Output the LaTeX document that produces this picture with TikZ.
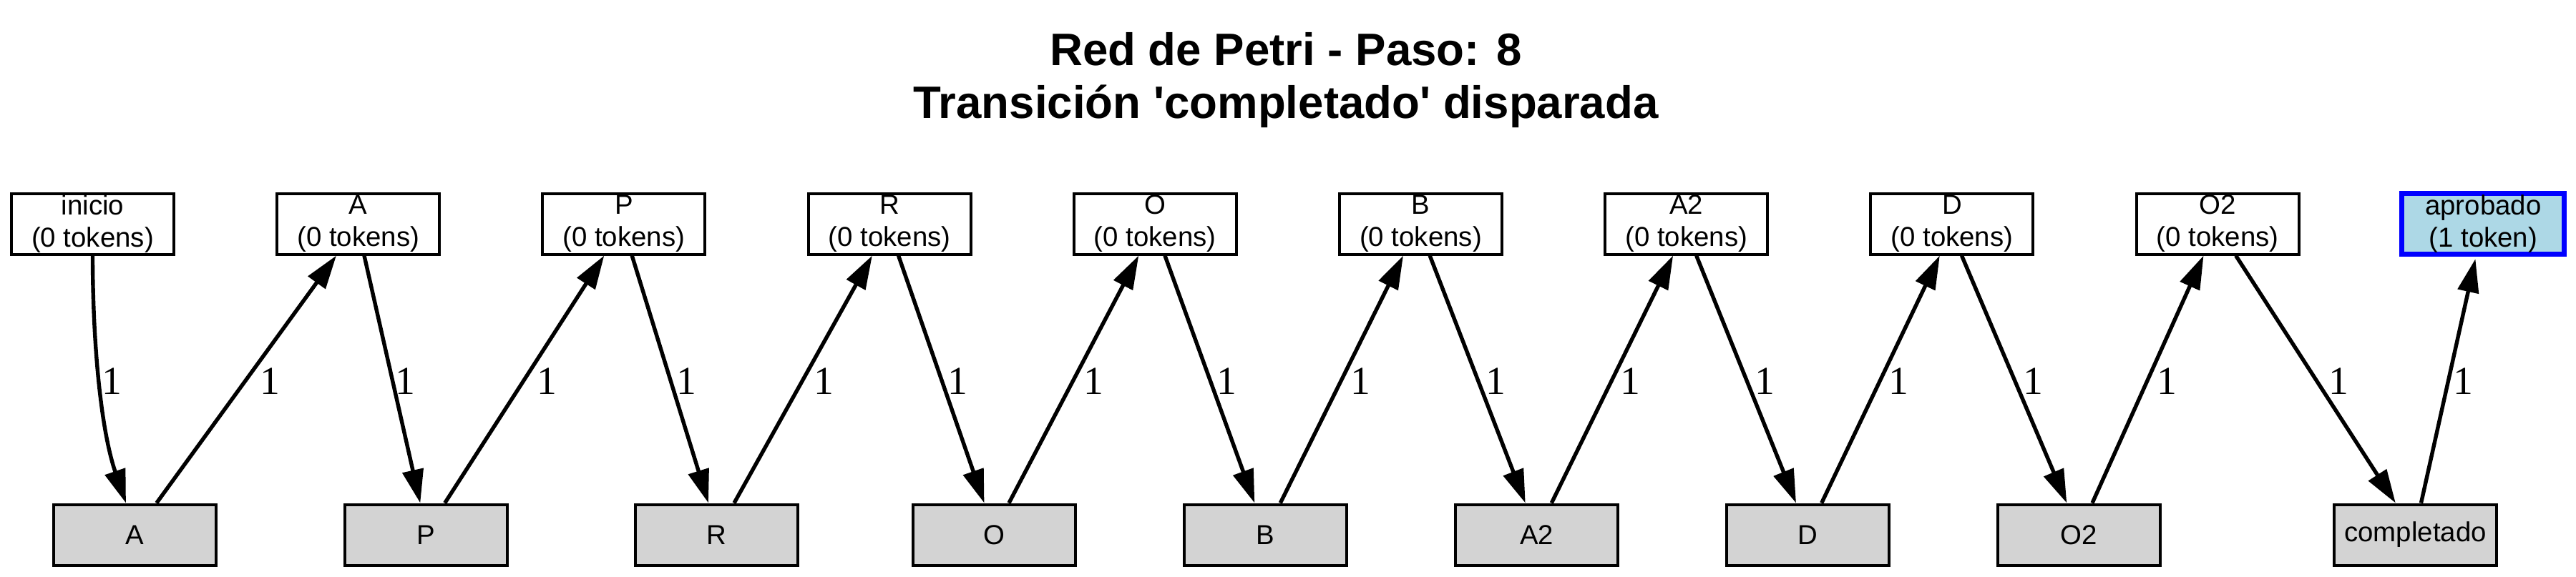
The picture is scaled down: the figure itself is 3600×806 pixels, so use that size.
\documentclass[tikz,border=0pt]{standalone}
\usepackage{fontspec}
\setmainfont{Liberation Sans}
\newfontfamily\serifone{Liberation Serif}
\newfontfamily\titlefont{Liberation Sans}[Ligatures=TeXOff]
\usetikzlibrary{arrows.meta,calc}
\definecolor{tgray}{HTML}{D3D3D3}
\definecolor{pblue}{HTML}{ADD8E6}
\definecolor{bblue}{HTML}{0000FF}
\tikzset{
 place/.style={draw=black, line width=1pt, fill=white, minimum width=56.75pt, minimum height=21.25pt, inner sep=0pt, align=center, font=\fontsize{9.6}{11.25}\selectfont},
 trans/.style={place, fill=tgray},
 marked/.style={place, draw=bblue, fill=pblue, line width=1.8pt},
 arc/.style={line width=1.35pt, -{Triangle[length=11.7pt,width=7.3pt]}},
 wlabel/.style={font=\serifone\fontsize{13.9}{16}\selectfont, anchor=base, inner sep=0pt},
 titletext/.style={font=\titlefont\bfseries\fontsize{15.9}{18.5}\selectfont, anchor=base, inner sep=0pt}
}
\begin{document}
\begin{tikzpicture}[x=0.25pt,y=-0.25pt]
\useasboundingbox (0,0) rectangle (3600,806);
% title
\node[titletext] (title1) at (1797,91) {Red de Petri - Paso: 8};
\node[titletext] (title2) at (1797,165) {Transición 'completado' disparada};
% places
\node[place] (inicio) at (129.5,313) {inicio\\(0 tokens)};
\node[place] (pA) at (500.7,313) {A\\(0 tokens)};
\node[place] (pP) at (871.9,313) {P\\(0 tokens)};
\node[place] (pR) at (1243.1,313) {R\\(0 tokens)};
\node[place] (pO) at (1614.3,313) {O\\(0 tokens)};
\node[place] (pB) at (1985.5,313) {B\\(0 tokens)};
\node[place] (pA2) at (2356.7,313) {A2\\(0 tokens)};
\node[place] (pD) at (2727.9,313) {D\\(0 tokens)};
\node[place] (pO2) at (3099.1,313) {O2\\(0 tokens)};
\node[marked] (apr) at (3470.3,313) {aprobado\\(1 token)};
% transitions
\node[trans] (tA) at (188.6,748) {A};
\node[trans] (tP) at (595.5,748) {P};
\node[trans] (tR) at (1001.8,748) {R};
\node[trans] (tO) at (1389,748) {O};
\node[trans] (tB) at (1768,748) {B};
\node[trans] (tA2) at (2147.5,748) {A2};
\node[trans] (tD) at (2526.5,748) {D};
\node[trans] (tO2) at (2905.5,748) {O2};
\node[trans] (tC) at (3375.5,748) {completado};
% arcs
\draw[arc] (inicio.south) .. controls ($(inicio.south)+(0,115)$) and ($(tA.north)+(-48.6,-105)$) .. ($(tA.north)+(-12.6,0)$);
\draw[arc] ($(tA.north)+(30.2,0)$) -- ($(pA.south)+(-30.7,0)$);
\draw[arc] ($(pA.south)+(8.3,0)$) -- ($(tP.north)+(-8.2,0)$);
\draw[arc] ($(tP.north)+(26.2,0)$) -- ($(pP.south)+(-27.6,0)$);
\draw[arc] ($(pP.south)+(11.3,0)$) -- ($(tR.north)+(-11.8,0)$);
\draw[arc] ($(tR.north)+(24.2,0)$) -- ($(pR.south)+(-24.2,0)$);
\draw[arc] ($(pR.south)+(12.5,0)$) -- ($(tO.north)+(-13.5,0)$);
\draw[arc] ($(tO.north)+(21,0)$) -- ($(pO.south)+(-23,0)$);
\draw[arc] ($(pO.south)+(13.7,0)$) -- ($(tB.north)+(-14.7,0)$);
\draw[arc] ($(tB.north)+(21.3,0)$) -- ($(pB.south)+(-24.5,0)$);
\draw[arc] ($(pB.south)+(12.7,0)$) -- ($(tA2.north)+(-15.8,0)$);
\draw[arc] ($(tA2.north)+(20.8,0)$) -- ($(pA2.south)+(-18.6,0)$);
\draw[arc] ($(pA2.south)+(14,0)$) -- ($(tD.north)+(-16.5,0)$);
\draw[arc] ($(tD.north)+(19.2,0)$) -- ($(pD.south)+(-17.1,0)$);
\draw[arc] ($(pD.south)+(13.6,0)$) -- ($(tO2.north)+(-17.2,0)$);
\draw[arc] ($(tO2.north)+(18.5,0)$) -- ($(pO2.south)+(-19.6,0)$);
\draw[arc] ($(pO2.south)+(25.5,0)$) -- ($(tC.north)+(-27.7,0)$);
\draw[arc] ($(tC.north)+(8,0)$) -- ($(apr.south)+(-10.9,3)$);
% weights
\node[wlabel] (w1) at (156,551) {1};
\node[wlabel] (w2) at (377,551) {1};
\node[wlabel] (w3) at (566.7,551) {1};
\node[wlabel] (w4) at (764,551) {1};
\node[wlabel] (w5) at (959.3,551) {1};
\node[wlabel] (w6) at (1151.7,551) {1};
\node[wlabel] (w7) at (1338.8,551) {1};
\node[wlabel] (w8) at (1528.6,551) {1};
\node[wlabel] (w9) at (1714,551) {1};
\node[wlabel] (w10) at (1901,551) {1};
\node[wlabel] (w11) at (2090,551) {1};
\node[wlabel] (w12) at (2278.3,551) {1};
\node[wlabel] (w13) at (2466,551) {1};
\node[wlabel] (w14) at (2653.3,551) {1};
\node[wlabel] (w15) at (2841.7,551) {1};
\node[wlabel] (w16) at (3028.3,551) {1};
\node[wlabel] (w17) at (3268,551) {1};
\node[wlabel] (w18) at (3442,551) {1};
\end{tikzpicture}
\end{document}
